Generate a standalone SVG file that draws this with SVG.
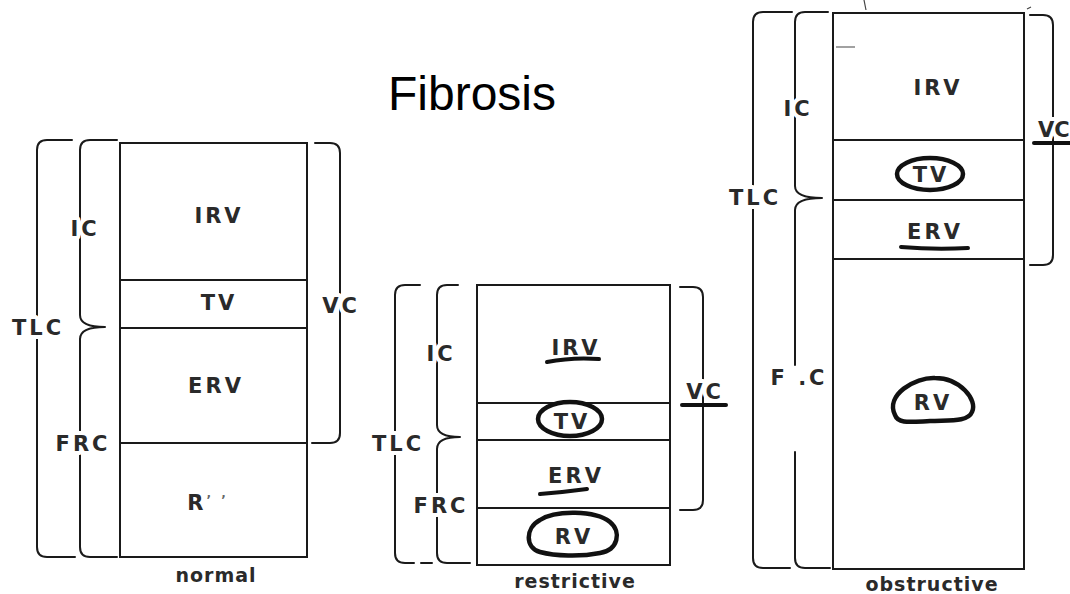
<svg xmlns="http://www.w3.org/2000/svg" width="1070" height="594" viewBox="0 0 1070 594">
<style>
.bg{fill:#ffffff}
.box{fill:none;stroke:#1a1a1a;stroke-width:2}
.br{fill:none;stroke:#1a1a1a;stroke-width:2;stroke-linecap:round;stroke-linejoin:round}
.lbl{font-family:"DejaVu Sans",sans-serif;font-weight:bold;font-size:21px;letter-spacing:3px;fill:#2a2a2a;text-anchor:middle}
.halo{stroke:#ffffff;stroke-width:8px;paint-order:stroke;stroke-linejoin:round}
.cap{font-family:"DejaVu Sans",sans-serif;font-weight:bold;font-size:19px;letter-spacing:1px;fill:#2a2a2a;text-anchor:middle}
.mark{fill:none;stroke:#111111;stroke-width:4.5;stroke-linecap:round;stroke-linejoin:round}
.ul{fill:none;stroke:#111111;stroke-width:4;stroke-linecap:round}
.stray{fill:none;stroke:#444444;stroke-width:1.2}
.title{font-family:"Liberation Sans",Arial,sans-serif;font-size:48px;fill:#000000}
</style>
<rect class="bg" x="0" y="0" width="1070" height="594"/>

<g id="title"><text class="title" x="388" y="110">Fibrosis</text></g>

<!-- Normal column -->
<g id="normal">
  <g id="normal-irv"><rect class="box" x="120" y="143" width="187" height="137"/><text class="lbl" x="219" y="223">IRV</text></g>
  <g id="normal-tv"><rect class="box" x="120" y="280" width="187" height="48"/><text class="lbl" x="219" y="310">TV</text></g>
  <g id="normal-erv"><rect class="box" x="120" y="328" width="187" height="115"/><text class="lbl" x="216" y="393">ERV</text></g>
  <g id="normal-rv"><rect class="box" x="120" y="443" width="187" height="114"/><text class="lbl" x="208" y="510">R<tspan font-size="12" fill="#666666" dy="-6">’ ’</tspan></text></g>
  <text class="cap" x="216" y="582">normal</text>
</g>

<!-- Restrictive column -->
<g id="restrictive">
  <g id="restrictive-irv"><rect class="box" x="477" y="285" width="193" height="118"/><text class="lbl" x="576" y="355">IRV</text>
    <path class="ul" d="M547 362 Q572 357 599 359"/></g>
  <g id="restrictive-tv"><rect class="box" x="477" y="403" width="193" height="37"/><text class="lbl" x="572" y="429">TV</text>
    <ellipse class="mark" cx="570" cy="419" rx="32" ry="17"/></g>
  <g id="restrictive-erv"><rect class="box" x="477" y="440" width="193" height="68"/><text class="lbl" x="576" y="483">ERV</text>
    <path class="ul" d="M540 494 Q565 492 587 489"/></g>
  <g id="restrictive-rv"><rect class="box" x="477" y="508" width="193" height="57"/><text class="lbl" x="574" y="544">RV</text>
    <path class="mark" stroke-width="5.5" d="M540 520 C555 510 595 510 610 522 C622 532 618 550 600 553 C580 557 555 556 540 552 C525 548 525 528 540 520 Z"/></g>
  <text class="cap" x="575" y="588">restrictive</text>
</g>

<!-- Obstructive column -->
<g id="obstructive">
  <g id="obstructive-irv"><rect class="box" x="833" y="13" width="191" height="127"/><text class="lbl" x="938" y="95">IRV</text></g>
  <g id="obstructive-tv"><rect class="box" x="833" y="140" width="191" height="60"/><text class="lbl" x="931" y="182">TV</text>
    <ellipse class="mark" cx="930" cy="174" rx="33" ry="16"/></g>
  <g id="obstructive-erv"><rect class="box" x="833" y="200" width="191" height="59"/><text class="lbl" x="935" y="239">ERV</text>
    <path class="ul" d="M901 247 Q935 250 968 248"/></g>
  <g id="obstructive-rv"><rect class="box" x="833" y="259" width="191" height="310"/><text class="lbl" x="933" y="410">RV</text>
    <path class="mark" stroke-width="5.5" d="M895 415 C885 395 915 377 935 378 C960 378 978 400 972 412 C968 422 950 420 930 421 C910 422 898 424 895 415 Z"/></g>
  <text class="cap" x="932" y="591">obstructive</text>
  <path class="stray" d="M864 0 L866 10 M836 47 H855 M1027 9 L1031 7"/>
</g>

<!-- Braces (connectors) -->
<g id="connectors">
  <path class="br" d="M72 140 H47 Q37 140 37 150 V547 Q37 557 47 557 H75"/>
  <path class="br" d="M117 140 H90 Q80 140 80 150 V315 Q80 327 105 327 Q80 327 80 339 V547 Q80 557 90 557 H117"/>
  <path class="br" d="M315 143 H330 Q340 143 340 153 V433 Q340 443 330 443 H312"/>

  <path class="br" d="M420 285 H405 Q395 285 395 295 V553 Q395 563 405 563 H414 M421 563 H432"/>
  <path class="br" d="M458 285 H447 Q437 285 437 295 V425 Q437 437 460 437 Q437 437 437 449 V553 Q437 563 447 563 H470"/>
  <path class="br" d="M680 287 H693 Q703 287 703 297 V500 Q703 510 693 510 H680"/>

  <path class="br" d="M792 12 H763 Q753 12 753 22 V558 Q753 568 763 568 H790"/>
  <path class="br" d="M828 12 H805 Q795 12 795 22 V186 Q795 198 822 198 Q795 198 795 210 V365 M795 452 V558 Q795 568 805 568 H830"/>
  <path class="br" d="M1030 15 H1043 Q1053 15 1053 25 V255 Q1053 265 1043 265 H1030"/>
</g>

<!-- Brace labels -->
<g id="labels">
  <text class="lbl halo" x="85" y="236">IC</text>
  <text class="lbl halo" x="38" y="335">TLC</text>
  <text class="lbl halo" x="83" y="451">FRC</text>
  <text class="lbl halo" x="341" y="313">VC</text>

  <text class="lbl halo" x="441" y="361">IC</text>
  <text class="lbl halo" x="398" y="451">TLC</text>
  <text class="lbl halo" x="441" y="513">FRC</text>
  <text class="lbl halo" x="705" y="399">VC</text>
  <path class="ul" d="M682 405 H726"/>

  <text class="lbl halo" x="798" y="116">IC</text>
  <text class="lbl halo" x="755" y="205">TLC</text>
  <text class="lbl halo" x="799" y="385">F .C</text>
  <text class="lbl halo" x="1038" y="137" style="text-anchor:start;letter-spacing:0px">VC</text>
  <path class="ul" d="M1034 143 H1070"/>
</g>
</svg>
